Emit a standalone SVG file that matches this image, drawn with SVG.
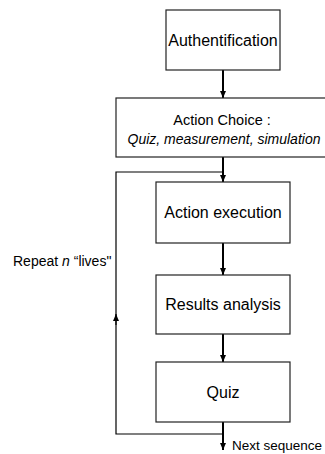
<svg xmlns="http://www.w3.org/2000/svg" width="325" height="454" viewBox="0 0 325 454">
<style>
.box{fill:#fff;stroke:#222;stroke-width:1.2}
.t{font-family:"Liberation Sans",Arial,sans-serif;fill:#000;text-anchor:middle}
.s{text-anchor:start}
.c{fill:none;stroke:#000;stroke-width:2}
.l{fill:none;stroke:#000;stroke-width:1.2}
</style>
<defs>
<marker id="ah" viewBox="0 0 7 6" refX="7" refY="3" markerWidth="7" markerHeight="6" markerUnits="userSpaceOnUse" orient="auto">
<path d="M0,0 L7,3 L0,6 Z" fill="#000"/>
</marker>
</defs>
<rect width="325" height="454" fill="#fff"/>
<g id="connectors">
<path class="c" d="M223,70 V98" marker-end="url(#ah)"/>
<path class="c" d="M223,157 V182" marker-end="url(#ah)"/>
<path class="c" d="M223,243 V275" marker-end="url(#ah)"/>
<path class="c" d="M223,334 V362" marker-end="url(#ah)"/>
<path class="c" d="M223,422 V450" marker-end="url(#ah)"/>
<path class="l" d="M223,172 H116 V434 H223"/>
<path class="l" d="M116,325 V314" marker-end="url(#ah)"/>
</g>
<g id="authentification">
<rect class="box" x="166" y="10" width="114" height="60"/>
<text class="t" x="223" y="46" font-size="16">Authentification</text>
</g>
<g id="action-choice">
<rect class="box" x="116" y="98" width="212" height="59"/>
<text class="t" x="222" y="125" font-size="14.5">Action Choice :</text>
<text class="t" x="224" y="144" font-size="14" font-style="italic">Quiz, measurement, simulation</text>
</g>
<g id="action-execution">
<rect class="box" x="156" y="182" width="134" height="61"/>
<text class="t" x="223" y="218" font-size="16">Action execution</text>
</g>
<g id="results-analysis">
<rect class="box" x="156" y="275" width="134" height="59"/>
<text class="t" x="223" y="310" font-size="16">Results analysis</text>
</g>
<g id="quiz">
<rect class="box" x="156" y="362" width="134" height="60"/>
<text class="t" x="223" y="398" font-size="16">Quiz</text>
</g>
<g id="labels">
<text class="t s" x="13" y="266" font-size="14">Repeat <tspan font-style="italic">n</tspan> “lives"</text>
<text class="t s" x="232" y="450" font-size="13.5">Next sequence</text>
</g>
</svg>
